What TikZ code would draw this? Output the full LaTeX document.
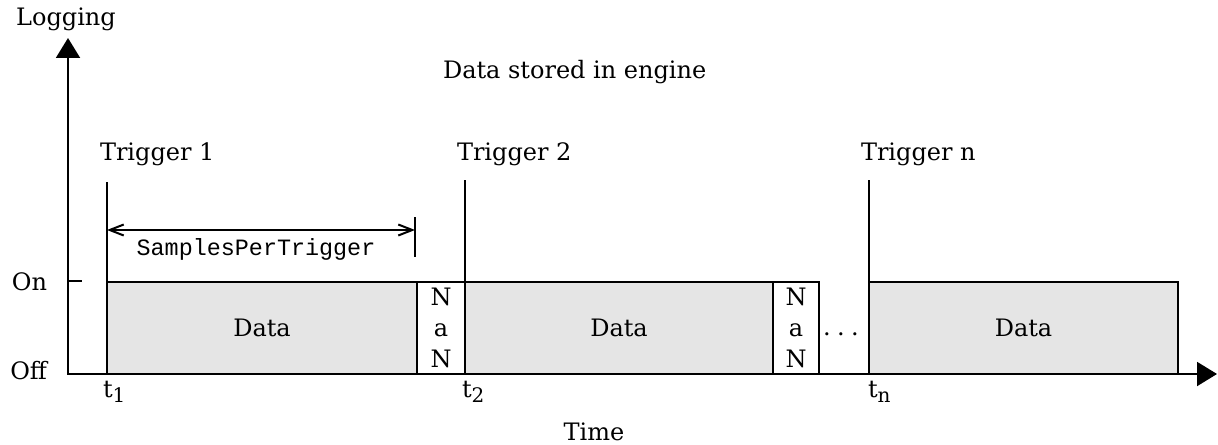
\documentclass[tikz,border=0pt]{standalone}
\usepackage{fontspec}
\setmainfont{DejaVu Serif}
\setmonofont{Liberation Mono}
\usetikzlibrary{arrows.meta}
\definecolor{datagray}{HTML}{E5E5E5}
% time label with a lowered index
\newcommand{\tlabel}[1]{t\raisebox{-0.45ex}{\fontsize{10}{10}\selectfont #1}}

\begin{document}
\begin{tikzpicture}[x=0.5pt,y=-0.5pt,
  every node/.style={font=\fontsize{12}{15.5}\selectfont, inner sep=0pt, outer sep=0pt},
  thin line/.style={line width=1pt},
  axis/.style={line width=1pt, {Triangle[length=10pt,width=12pt]}-{Triangle[length=10pt,width=12pt]}},
  dimline/.style={line width=1pt, {Straight Barb[length=7pt,width=5.5pt]}-{Straight Barb[length=7pt,width=5.5pt]}},
  databox/.style={draw, line width=1pt, fill=datagray, minimum height=46pt, anchor=south west},
  nanbox/.style={draw, line width=1pt, fill=white, minimum height=46pt, anchor=south west, align=center},
  label/.style={anchor=base},
  leftlabel/.style={anchor=base west},
  rightlabel/.style={anchor=base east}]
\useasboundingbox (0,0) rectangle (1218,444);

% data and NaN blocks along the time axis
\node[databox, minimum width=155pt] (d1) at (107,374) {Data};
\node[nanbox, minimum width=24pt] (n1) at (417,374) {N\\a\\N};
\node[databox, minimum width=154pt] (d2) at (465,374) {Data};
\node[nanbox, minimum width=23pt] (n2) at (773,374) {N\\a\\N};
\node[databox, minimum width=154.5pt] (d3) at (869,374) {Data};
\node[anchor=base] (dots) at (841,335) {.\hspace{3.2pt}.\hspace{3.2pt}.};

% trigger markers
\coordinate (trig1) at (107,182);
\coordinate (trig2) at (465,180);
\coordinate (trign) at (869,180);
\draw[thin line] (d1.south west) -- (trig1);
\draw[thin line] (d2.south west) -- (trig2);
\draw[thin line] (d3.south west) -- (trign);

% samples-per-trigger span
\coordinate (spL) at (107,230);
\coordinate (spR) at (415,230);
\coordinate (spTop) at (415,217);
\coordinate (spBot) at (415,257);
\draw[dimline] (spL) -- (spR);
\draw[thin line] (spTop) -- (spBot);
\node[label, font=\ttfamily\fontsize{11.7}{14}\selectfont] (spt) at (256,255) {SamplesPerTrigger};

% axes
\coordinate (O) at (68,374);
\coordinate (ytip) at (68,38);
\coordinate (xtip) at (1217,374);
\draw[axis, line join=miter] (ytip) -- (O) -- (xtip);
\coordinate (onL) at (68,281);
\coordinate (onR) at (82,281);
\draw[thin line] (onL) -- (onR);

% labels
\node[label] (logging) at (66,26) {Logging};
\node[leftlabel] (title) at (443,78) {Data stored in engine};
\node[leftlabel] (tr1) at (100,160) {Trigger 1};
\node[leftlabel] (tr2) at (457,160) {Trigger 2};
\node[leftlabel] (trn) at (861,160) {Trigger n};
\node[rightlabel] (on) at (47,290) {On};
\node[rightlabel] (off) at (47,379) {Off};
\node[leftlabel] (t1) at (103,397) {\tlabel{1}};
\node[leftlabel] (t2) at (462,397) {\tlabel{2}};
\node[leftlabel] (tn) at (868,397) {\tlabel{n}};
\node[label] (time) at (594,440) {Time};
\end{tikzpicture}
\end{document}
